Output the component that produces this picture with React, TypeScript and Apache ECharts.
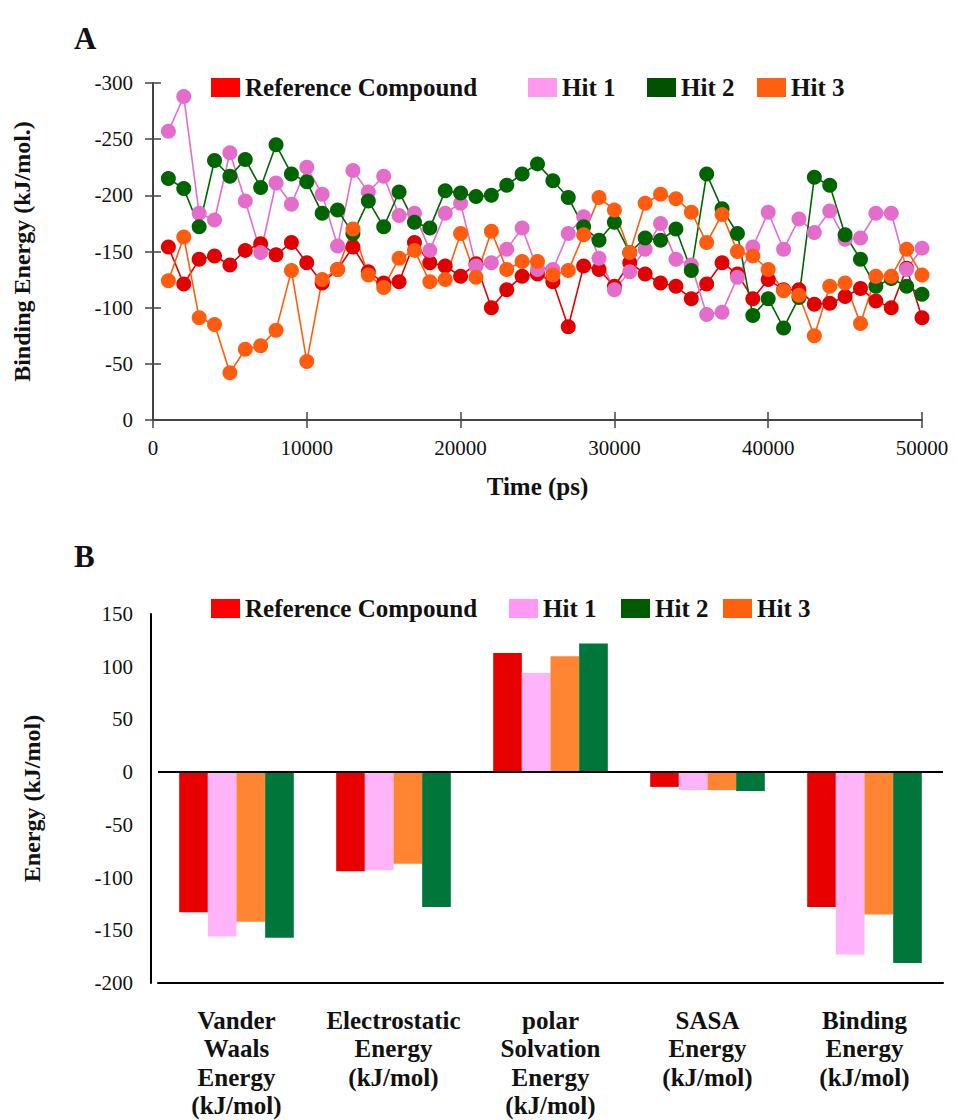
import React, { useEffect, useRef } from "react";
import * as echarts from "echarts";

// ---------- Panel A data ----------
const timesA = [
  1000, 2000, 3000, 4000, 5000, 6000, 7000, 8000, 9000, 10000,
  11000, 12000, 13000, 14000, 15000, 16000, 17000, 18000, 19000, 20000,
  21000, 22000, 23000, 24000, 25000, 26000, 27000, 28000, 29000, 30000,
  31000, 32000, 33000, 34000, 35000, 36000, 37000, 38000, 39000, 40000,
  41000, 42000, 43000, 44000, 45000, 46000, 47000, 48000, 49000, 50000,
];
const refA = [
  -154, -121, -143, -146, -138, -151, -157, -147, -158, -140,
  -122, -134, -154, -132, -122, -123, -158, -140, -137, -128,
  -139, -100, -116, -128, -130, -123, -83, -137, -134, -119,
  -140, -130, -122, -119, -108, -121, -140, -130, -108, -125,
  -116, -116, -103, -104, -110, -117, -106, -100, -135, -91,
];
const hit1A = [
  -257, -288, -184, -178, -238, -195, -149, -211, -192, -225,
  -201, -155, -222, -203, -217, -182, -184, -151, -184, -193,
  -137, -140, -152, -171, -134, -134, -166, -181, -144, -116,
  -132, -152, -175, -143, -138, -94, -96, -127, -154, -185,
  -152, -179, -167, -186, -161, -162, -184, -184, -134, -153,
];
const hit2A = [
  -215, -206, -172, -231, -217, -232, -207, -245, -219, -212,
  -184, -187, -166, -195, -172, -203, -176, -171, -204, -202,
  -199, -200, -209, -219, -228, -213, -198, -172, -160, -176,
  -149, -162, -160, -170, -133, -219, -188, -166, -93, -108,
  -82, -109, -216, -209, -165, -143, -119, -126, -119, -112,
];
const hit3A = [
  -124, -163, -91, -85, -42, -63, -66, -80, -133, -52,
  -125, -134, -170, -129, -118, -144, -151, -123, -125, -166,
  -127, -168, -134, -141, -141, -129, -133, -165, -198, -187,
  -149, -193, -201, -197, -185, -158, -183, -150, -146, -134,
  -115, -111, -75, -119, -122, -86, -128, -128, -152, -129,
];

// ---------- Panel B data ----------
const categoriesB = [
  "Vander\nWaals\nEnergy\n(kJ/mol)",
  "Electrostatic\nEnergy\n(kJ/mol)",
  "polar\nSolvation\nEnergy\n(kJ/mol)",
  "SASA\nEnergy\n(kJ/mol)",
  "Binding\nEnergy\n(kJ/mol)",
];
const refB = [-133, -94, 113, -14, -128];
const hit1B = [-156, -93, 94, -17, -173];
const hit3B = [-142, -87, 110, -17, -135];
const hit2B = [-157, -128, 122, -18, -181];

const SERIF = "Liberation Serif, Times New Roman, serif";

const pairs = (vals: number[]) => vals.map((v, i) => [timesA[i], v]);

export default function App() {
  const ref = useRef<HTMLDivElement>(null);

  useEffect(() => {
    if (!ref.current) return;
    const chart = echarts.init(ref.current, null, { renderer: "svg" });

    const lineSeries = (name: string, vals: number[], color: string) => ({
      name,
      type: "line",
      xAxisIndex: 0,
      yAxisIndex: 0,
      data: pairs(vals),
      symbol: "circle",
      symbolSize: 15,
      itemStyle: { color },
      lineStyle: { color, width: 1.6 },
    });

    const barSeries = (name: string, vals: number[], color: string, extra: any = {}) => ({
      name,
      type: "bar",
      xAxisIndex: 2,
      yAxisIndex: 2,
      data: vals,
      barGap: "0%",
      barCategoryGap: "27%",
      itemStyle: { color },
      ...extra,
    });

    const legendText = {
      fontFamily: SERIF,
      fontWeight: "bold",
      fontSize: 25,
      color: "#111",
    };
    const mkLegend = (name: string, color: string, left: number, top: number) => ({
      left,
      top,
      padding: 0,
      itemWidth: 29,
      itemHeight: 19,
      icon: "rect",
      textStyle: legendText,
      data: [{ name, icon: "rect", itemStyle: { color } }],
      selectedMode: false,
    });

    const plainNum = (v: number) => String(v);

    const option: any = {
      animation: false,
      backgroundColor: "#ffffff",
      title: [
        {
          text: "A",
          left: 69,
          top: 18,
          textStyle: { fontFamily: SERIF, fontWeight: "bold", fontSize: 31, color: "#111" },
        },
        {
          text: "B",
          left: 69,
          top: 536,
          textStyle: { fontFamily: SERIF, fontWeight: "bold", fontSize: 31, color: "#111" },
        },
      ],
      legend: [
        mkLegend("Reference Compound", "#ff0000", 211, 75),
        mkLegend("Hit 1", "#ff99f0", 528, 75),
        mkLegend("Hit 2", "#005200", 647, 75),
        mkLegend("Hit 3", "#ff6010", 757, 75),
        mkLegend("Reference Compound ", "#ff0000", 211, 596),
        mkLegend("Hit 1 ", "#ff99f5", 509, 596),
        mkLegend("Hit 2 ", "#005a00", 621, 596),
        mkLegend("Hit 3 ", "#ff6010", 723, 596),
      ],
      grid: [
        { left: 153, right: 34, top: 83, bottom: 700 },
        { left: 158, right: 13, top: 614, bottom: 133 },
      ],
      xAxis: [
        {
          gridIndex: 0,
          type: "value",
          min: 0,
          max: 50000,
          interval: 10000,
          name: "Time (ps)",
          nameLocation: "middle",
          nameGap: 54,
          nameTextStyle: { fontFamily: SERIF, fontWeight: "bold", fontSize: 25, color: "#111" },
          axisLine: { show: true, onZero: false, lineStyle: { color: "#444", width: 2 } },
          axisTick: { show: true, length: 8, lineStyle: { color: "#444", width: 1.5 } },
          axisLabel: { fontFamily: SERIF, fontSize: 21, color: "#111", margin: 17, formatter: plainNum },
          splitLine: { show: false },
        },
        {
          gridIndex: 0,
          type: "value",
          position: "bottom",
          min: 0,
          max: 50000,
          interval: 10000,
          axisLine: { show: false, onZero: false },
          axisTick: { show: true, inside: true, length: 8, lineStyle: { color: "#444", width: 1.5 } },
          axisLabel: { show: false },
          splitLine: { show: false },
        },
        {
          gridIndex: 1,
          type: "category",
          data: categoriesB,
          axisLine: { show: true, onZero: false, lineStyle: { color: "#000", width: 2 } },
          axisTick: { show: false },
          axisLabel: {
            fontFamily: SERIF,
            fontWeight: "bold",
            fontSize: 25,
            lineHeight: 28.5,
            color: "#111",
            margin: 23,
            interval: 0,
          },
          splitLine: { show: false },
        },
      ],
      yAxis: [
        {
          gridIndex: 0,
          type: "value",
          min: -300,
          max: 0,
          interval: 50,
          inverse: true,
          name: "Binding Energy (kJ/mol.)",
          nameLocation: "middle",
          nameGap: 119,
          nameTextStyle: { fontFamily: SERIF, fontWeight: "bold", fontSize: 24, color: "#111" },
          axisLine: { show: true, onZero: false, lineStyle: { color: "#444", width: 2 } },
          axisTick: { show: true, length: 8, lineStyle: { color: "#444", width: 1.5 } },
          axisLabel: { fontFamily: SERIF, fontSize: 21, color: "#111", margin: 20, formatter: plainNum },
          splitLine: { show: false },
        },
        {
          gridIndex: 0,
          type: "value",
          position: "left",
          min: -300,
          max: 0,
          interval: 50,
          inverse: true,
          axisLine: { show: false, onZero: false },
          axisTick: { show: true, inside: true, length: 8, lineStyle: { color: "#444", width: 1.5 } },
          axisLabel: { show: false },
          splitLine: { show: false },
        },
        {
          gridIndex: 1,
          type: "value",
          min: -200,
          max: 150,
          interval: 50,
          offset: 7,
          name: "Energy (kJ/mol)",
          nameLocation: "middle",
          nameGap: 107,
          nameTextStyle: { fontFamily: SERIF, fontWeight: "bold", fontSize: 24, color: "#111" },
          axisLine: { show: true, onZero: false, lineStyle: { color: "#000", width: 2 } },
          axisTick: { show: false },
          axisLabel: { fontFamily: SERIF, fontSize: 21, color: "#111", margin: 18, formatter: plainNum },
          splitLine: { show: false },
        },
      ],
      series: [
        lineSeries("Reference Compound", refA, "#e00000"),
        lineSeries("Hit 1", hit1A, "#e46dcb"),
        lineSeries("Hit 2", hit2A, "#006400"),
        lineSeries("Hit 3", hit3A, "#ff5c0f"),
        barSeries("Reference Compound ", refB, "#e80000", {
          markLine: {
            silent: true,
            symbol: "none",
            label: { show: false },
            lineStyle: { color: "#000", width: 2, type: "solid" },
            data: [{ yAxis: 0 }],
          },
        }),
        barSeries("Hit 1 ", hit1B, "#ffb3f8"),
        barSeries("Hit 3 ", hit3B, "#ff8533"),
        barSeries("Hit 2 ", hit2B, "#00763a"),
      ],
    };

    chart.setOption(option);
    return () => chart.dispose();
  }, []);

  return (
    <div
      ref={ref}
      style={{ position: "absolute", left: 0, top: 0, width: 956, height: 1120, background: "#fff" }}
    />
  );
}
